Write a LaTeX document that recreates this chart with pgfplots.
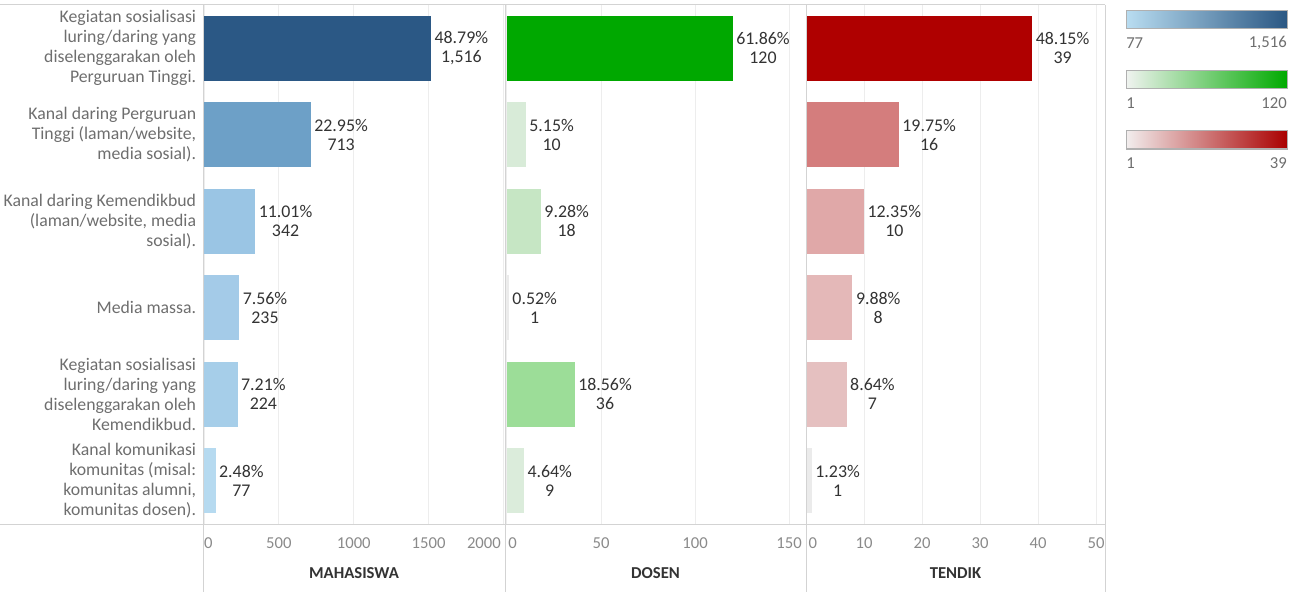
\documentclass[border=0pt]{standalone}
\usepackage{fontspec}
\setmainfont{Carlito}
\usepackage{pgfplots}
\pgfplotsset{compat=1.18}

\definecolor{gridc}{HTML}{EDEDED}
\definecolor{framec}{HTML}{D3D3D3}
\definecolor{lblc}{HTML}{6E6E6E}
\definecolor{tickc}{HTML}{8A8A8A}
\definecolor{valc}{HTML}{333333}
% mahasiswa
\definecolor{b1}{HTML}{2B5885}
\definecolor{b2}{HTML}{6DA0C7}
\definecolor{b3}{HTML}{9AC5E4}
\definecolor{b4}{HTML}{A4CBE8}
\definecolor{b5}{HTML}{A6CEE9}
\definecolor{b6}{HTML}{B6DAF0}
% dosen
\definecolor{g1}{HTML}{00A800}
\definecolor{g2}{HTML}{D8EBD8}
\definecolor{g3}{HTML}{C6E6C4}
\definecolor{g4}{HTML}{EBEBEB}
\definecolor{g5}{HTML}{9CDD98}
\definecolor{g6}{HTML}{DBECDB}
% tendik
\definecolor{r1}{HTML}{AF0000}
\definecolor{r2}{HTML}{D47D7D}
\definecolor{r3}{HTML}{E0A8A8}
\definecolor{r4}{HTML}{E4B8B8}
\definecolor{r5}{HTML}{E5C0C0}
\definecolor{r6}{HTML}{EBEBEB}

\newcommand\fnt{\fontsize{12.5}{15}\selectfont}
\newcommand\lfnt{\fontsize{13.3}{15}\selectfont}

\pgfplotsset{
  panel/.style={
    scale only axis, height=389.25pt, anchor=south west,
    ymin=-0.5, ymax=5.5, y dir=reverse, ytick=\empty,
    axis line style={draw=none}, tick style={draw=none},
    xmajorgrids, grid style={gridc, line width=0.75pt},
    /pgf/number format/assume math mode=true,
    xticklabel style={font=\fnt, text=tickc, inner sep=0pt, yshift=-10pt, anchor=north},
    xlabel style={font=\fnt\bfseries, text=valc, at={(axis description cs:0.5,0)}, anchor=center, yshift=-37pt},
    clip=false,
  },
  hb/.style={xbar, bar width=0.75, bar shift=0pt, draw=none, fill=#1,
    nodes near coords align={horizontal},
    every node near coord/.append style={font=\fontsize{13.4}{14.25}\selectfont, text=valc, align=center, anchor=west, inner sep=2.5pt}},
}

\begin{document}
\begin{tikzpicture}
\useasboundingbox (0pt,0pt) rectangle (978pt,-444pt);

% MAHASISWA
\begin{axis}[panel, at={(152.25pt,-393pt)}, width=226.5pt,
  xmin=-6.7, xmax=2010, xtick={0,500,1000,1500,2000},
  xticklabels={\makebox[0pt][l]{0},500,1000,1500,\makebox[0pt][r]{2000\hspace{2pt}}},
  ytick={0,1,2,3,4,5},
  yticklabels={{Kegiatan sosialisasi\\luring/daring yang\\diselenggarakan oleh\\Perguruan Tinggi.},
    {Kanal daring Perguruan\\Tinggi (laman/website,\\media sosial).},
    {Kanal daring Kemendikbud\\(laman/website, media\\sosial).},
    {Media massa.},
    {Kegiatan sosialisasi\\luring/daring yang\\diselenggarakan oleh\\Kemendikbud.},
    {Kanal komunikasi\\komunitas (misal:\\komunitas alumni,\\komunitas dosen).}},
  yticklabel style={font=\lfnt, text=lblc, align=right, inner sep=0pt, xshift=-5pt},
  xlabel={MAHASISWA}]
\addplot[hb=b1, nodes near coords={48.79\%\\1,516}] coordinates {(1516,0)};
\addplot[hb=b2, nodes near coords={22.95\%\\713}] coordinates {(713,1)};
\addplot[hb=b3, nodes near coords={11.01\%\\342}] coordinates {(342,2)};
\addplot[hb=b4, nodes near coords={7.56\%\\235}] coordinates {(235,3)};
\addplot[hb=b5, nodes near coords={7.21\%\\224}] coordinates {(224,4)};
\addplot[hb=b6, nodes near coords={2.48\%\\77}] coordinates {(77,5)};
\end{axis}

% DOSEN
\begin{axis}[panel, at={(378.75pt,-393pt)}, width=225.75pt,
  xmin=-1.06, xmax=159, xtick={0,50,100,150},
  xticklabels={\makebox[0pt][l]{\hspace{1pt}0},50,100,150},
  xlabel={DOSEN}]
\addplot[hb=g1, nodes near coords={61.86\%\\120}] coordinates {(120,0)};
\addplot[hb=g2, nodes near coords={5.15\%\\10}] coordinates {(10,1)};
\addplot[hb=g3, nodes near coords={9.28\%\\18}] coordinates {(18,2)};
\addplot[hb=g4, nodes near coords={0.52\%\\1}] coordinates {(1,3)};
\addplot[hb=g5, nodes near coords={18.56\%\\36}] coordinates {(36,4)};
\addplot[hb=g6, nodes near coords={4.64\%\\9}] coordinates {(9,5)};
\end{axis}

% TENDIK
\begin{axis}[panel, at={(604.5pt,-393pt)}, width=224.25pt,
  xmin=0, xmax=51.55, xtick={0,10,20,30,40,50},
  xticklabels={\makebox[0pt][l]{\hspace{2pt}0},10,20,30,40,50},
  xlabel={TENDIK}]
\addplot[hb=r1, nodes near coords={48.15\%\\39}] coordinates {(39,0)};
\addplot[hb=r2, nodes near coords={19.75\%\\16}] coordinates {(16,1)};
\addplot[hb=r3, nodes near coords={12.35\%\\10}] coordinates {(10,2)};
\addplot[hb=r4, nodes near coords={9.88\%\\8}] coordinates {(8,3)};
\addplot[hb=r5, nodes near coords={8.64\%\\7}] coordinates {(7,4)};
\addplot[hb=r6, nodes near coords={1.23\%\\1}] coordinates {(1,5)};
\end{axis}

% frame lines
\begin{scope}[framec, line width=0.75pt]
\draw (0pt,-3.75pt) -- (828.75pt,-3.75pt);
\draw (0pt,-393pt) -- (828.75pt,-393pt);
\foreach \x in {152.25,378.75,604.5,828.75}
  \draw (\x pt,-3.75pt) -- (\x pt,-444pt);
\end{scope}

% colour legends
\begin{scope}[font=\fnt, text=lblc]
\shade[left color={rgb,255:red,185;green,221;blue,241}, right color={rgb,255:red,42;green,87;blue,131}] (844.5pt,-8.25pt) rectangle (965.25pt,-21.75pt);
\draw[color={rgb,255:red,176;green,176;blue,176}, line width=0.75pt] (844.5pt,-8.25pt) rectangle (965.25pt,-21.75pt);
\node[anchor=west, inner sep=0pt] at (844.5pt,-32.25pt) {77};
\node[anchor=east, inner sep=0pt] at (965.25pt,-32.25pt) {1,516};

\shade[left color={rgb,255:red,240;green,243;blue,240}, right color={rgb,255:red,0;green,170;blue,0}] (844.5pt,-53.25pt) rectangle (965.25pt,-66.75pt);
\draw[color={rgb,255:red,176;green,176;blue,176}, line width=0.75pt] (844.5pt,-53.25pt) rectangle (965.25pt,-66.75pt);
\node[anchor=west, inner sep=0pt] at (844.5pt,-77.25pt) {1};
\node[anchor=east, inner sep=0pt] at (965.25pt,-77.25pt) {120};

\shade[left color={rgb,255:red,242;green,238;blue,238}, right color={rgb,255:red,170;green,0;blue,0}] (844.5pt,-98.25pt) rectangle (965.25pt,-111.75pt);
\draw[color={rgb,255:red,176;green,176;blue,176}, line width=0.75pt] (844.5pt,-98.25pt) rectangle (965.25pt,-111.75pt);
\node[anchor=west, inner sep=0pt] at (844.5pt,-122.25pt) {1};
\node[anchor=east, inner sep=0pt] at (965.25pt,-122.25pt) {39};
\end{scope}
\end{tikzpicture}
\end{document}
